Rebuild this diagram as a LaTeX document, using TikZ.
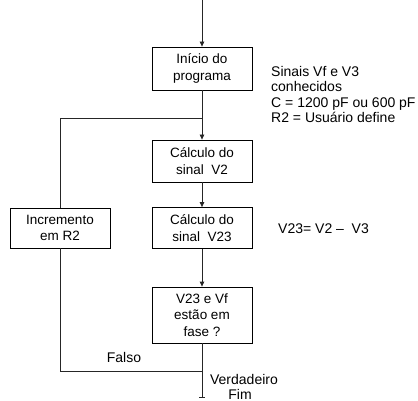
\documentclass[tikz,border=0pt]{standalone}
\usepackage{fontspec}
\setmainfont{Liberation Sans}
\usetikzlibrary{arrows.meta}
\begin{document}
\begin{tikzpicture}[x=1pt,y=-1pt,
  box/.style={draw=black,line width=0.8pt,minimum width=100pt,align=center,inner sep=0pt,font=\fontsize{13.5}{16.5}\selectfont},
  conn/.style={line width=0.8pt,draw=black!85},
  arr/.style={conn,-{Triangle[length=5pt,width=4.5pt]}},
  lbl/.style={font=\fontsize{14}{15.5}\selectfont,inner sep=0pt}]
\useasboundingbox (0,0) rectangle (418,401);
\node[box,minimum height=43pt] (b1) at (202,68.5) {Início do\\programa};
\node[box,minimum height=42pt] (b2) at (202,161) {Cálculo do\\sinal \ V2};
\node[box,minimum height=41pt] (b3) at (202,228) {Cálculo do\\sinal \ V23};
\node[box,minimum height=56pt] (b4) at (202,315) {V23 e Vf\\estão em\\fase ?};
\node[box,minimum height=40pt] (inc) at (60,228) {Incremento\\em R2};
\coordinate (top) at (202,0);
\coordinate (j1) at (202,118);
\coordinate (l1) at (60,118);
\coordinate (j2) at (202,371);
\coordinate (l2) at (60,371);
\coordinate (bot) at (202,397);
\coordinate (tl) at (199,397);
\coordinate (tr) at (205,397);
\draw[arr] (top) -- (b1.north);
\draw[arr] (b1.south) -- (b2.north);
\draw[arr] (b2.south) -- (b3.north);
\draw[arr] (b3.south) -- (b4.north);
\draw[conn] (b4.south) -- (bot);
\draw[conn] (tl) -- (tr);
\draw[conn] (j2) -- (l2) -- (inc.south);
\draw[conn] (inc.north) -- (l1) -- (j1);
\node[lbl,anchor=north west,align=left] (note) at (271,66) {Sinais Vf e V3\\conhecidos\\C = 1200 pF ou 600 pF\\R2 = Usuário define};
\node[lbl,anchor=west] (eq) at (278,229) {V23= V2 – \ V3};
\node[lbl,anchor=center] (falso) at (124,357) {Falso};
\node[lbl,anchor=center] (verd) at (244,379) {Verdadeiro};
\node[lbl,anchor=center] (fim) at (240,394) {Fim};
\end{tikzpicture}
\end{document}
